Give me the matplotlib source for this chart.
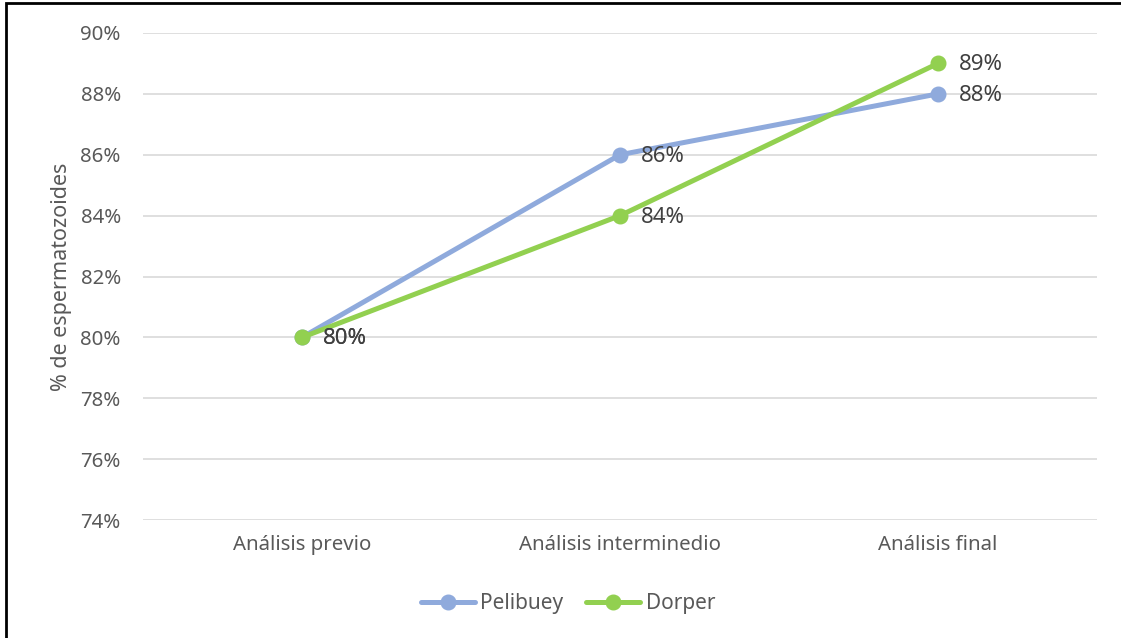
import matplotlib.pyplot as plt
from matplotlib.patches import Rectangle
from matplotlib.ticker import FuncFormatter, MultipleLocator

plt.rcParams["font.family"] = ["Noto Sans", "DejaVu Sans"]

categories = ["Análisis previo", "Análisis interminedio", "Análisis final"]
pelibuey = [80, 86, 88]
dorper = [80, 84, 89]

PELIBUEY_COLOR = "#8FAADC"
DORPER_COLOR = "#92D050"
TEXT_COLOR = "#595959"
LABEL_COLOR = "#404040"


def main() -> None:
    fig = plt.figure(figsize=(11.21, 6.38), dpi=100)
    ax = fig.add_axes([143 / 1121, 118 / 638, 954 / 1121, 487 / 638])

    x = range(len(categories))
    ax.plot(x, pelibuey, color=PELIBUEY_COLOR, lw=3.6, marker="o",
            markersize=10.5, label="Pelibuey", zorder=3, solid_capstyle="round")
    ax.plot(x, dorper, color=DORPER_COLOR, lw=3.6, marker="o",
            markersize=10.5, label="Dorper", zorder=4, solid_capstyle="round")

    for series in (pelibuey, dorper):
        for xi, v in zip(x, series):
            ax.annotate(f"{v}%", (xi, v), xytext=(15, -1), textcoords="offset points",
                        ha="left", va="center", fontsize=16, color=LABEL_COLOR,
                        zorder=5)

    ax.set_xlim(-0.5, len(categories) - 0.5)
    ax.set_ylim(74, 90)
    ax.yaxis.set_major_locator(MultipleLocator(2))
    ax.yaxis.set_major_formatter(FuncFormatter(lambda v, _: f"{v:.0f}%"))
    ax.set_xticks(list(x))
    ax.set_xticklabels(categories)
    ax.tick_params(length=0, labelsize=14.7, colors=TEXT_COLOR)
    ax.tick_params(axis="x", pad=11)
    ax.tick_params(axis="y", pad=16)
    ax.grid(axis="y", color="#D9D9D9", lw=1.2)
    ax.set_axisbelow(True)
    for spine in ax.spines.values():
        spine.set_visible(False)

    ax.set_ylabel("% de espermatozoides", fontsize=15.5, color=TEXT_COLOR, labelpad=6)

    ax.legend(loc="center", bbox_to_anchor=(568 / 1121, 34 / 638),
              bbox_transform=fig.transFigure, ncol=2, frameon=False,
              fontsize=15, labelcolor=TEXT_COLOR, handlelength=2.6,
              handletextpad=0.25, columnspacing=1.1)

    # outer frame: only left and top edges fall inside the canvas
    fig.patches.append(Rectangle((5.5 / 1121, -0.1), 1.2, (634.5 / 638) + 0.1,
                                 transform=fig.transFigure, fill=False,
                                 edgecolor="black", lw=2, zorder=10))

    fig.savefig("out.png", dpi=100)
    plt.close(fig)


if __name__ == "__main__":
    main()
